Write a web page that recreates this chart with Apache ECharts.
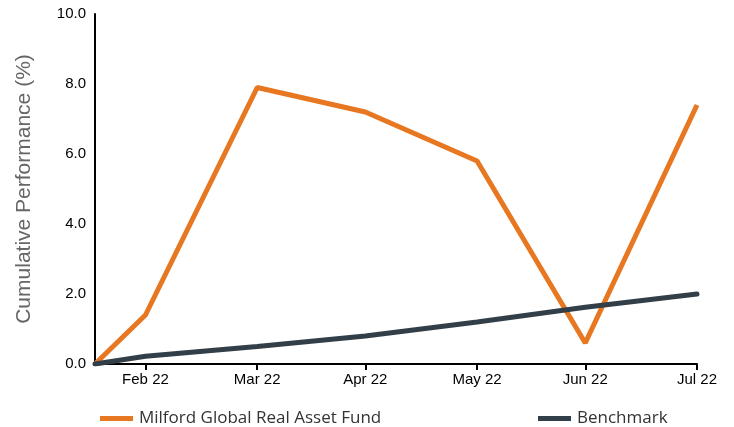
<!DOCTYPE html>
<html>
<head>
<meta charset="utf-8">
<script src="https://cdn.jsdelivr.net/npm/echarts@6/dist/echarts.min.js"></script>
<style>html,body{margin:0;padding:0;background:#fff}#c{width:734px;height:427px}</style>
</head>
<body>
<div id="c"></div>
<script>
const dates = ['2022-02-14','2022-02-28','2022-03-31','2022-04-30','2022-05-31','2022-06-30','2022-07-31'];
const tickDates = ['2022-02-28','2022-03-31','2022-04-30','2022-05-31','2022-06-30','2022-07-31'];
const fundValues = [0, 1.4, 7.9, 7.2, 5.8, 0.6, 7.4];
const benchValues = [0, 0.22, 0.5, 0.8, 1.2, 1.62, 2.0];
const fundName = 'Milford Global Real Asset Fund';
const benchName = 'Benchmark';
const yName = 'Cumulative Performance (%)';
const monthNames = ['Jan','Feb','Mar','Apr','May','Jun','Jul','Aug','Sep','Oct','Nov','Dec'];

const ts = d => new Date(d + 'T00:00:00Z').getTime();
const tickTs = tickDates.map(ts);
const fmt = v => { const d = new Date(v); return monthNames[d.getUTCMonth()] + ' ' + String(d.getUTCFullYear()).slice(2); };

const legendBase = {icon: 'rect', itemWidth: 33, itemHeight: 5, itemGap: 7, top: 410, padding: 0,
  itemStyle: {borderWidth: 0}, textStyle: {fontFamily: 'Open Sans', fontSize: 17, color: '#333', padding: [0, 0, 0, 1]}};

const chart = echarts.init(document.getElementById('c'));
chart.setOption({
  animation: false,
  grid: {left: 95, right: 37, top: 14, bottom: 63},
  legend: [
    Object.assign({data: [fundName], left: 100}, legendBase),
    Object.assign({data: [benchName], left: 538}, legendBase)
  ],
  xAxis: {
    type: 'value',
    min: ts(dates[0]),
    max: ts(dates[dates.length - 1]),
    axisLine: {lineStyle: {color: '#000', width: 2}},
    axisTick: {show: true, customValues: tickTs, length: 6, lineStyle: {color: '#000', width: 2}},
    axisLabel: {customValues: tickTs, formatter: fmt, color: '#000', fontFamily: 'Liberation Sans', fontSize: 15, margin: 8, hideOverlap: false},
    splitLine: {show: false}
  },
  yAxis: {
    type: 'value',
    min: 0, max: 10, interval: 2,
    name: yName,
    nameLocation: 'middle',
    nameGap: 60,
    nameTextStyle: {color: '#666', fontFamily: 'Liberation Sans', fontSize: 21},
    axisLine: {show: true, lineStyle: {color: '#000', width: 2}},
    axisTick: {show: false},
    axisLabel: {formatter: v => v.toFixed(1), color: '#000', fontFamily: 'Liberation Sans', fontSize: 15, margin: 9},
    splitLine: {show: false}
  },
  series: [
    {name: fundName, type: 'line', data: dates.map((d, i) => [ts(d), fundValues[i]]),
     showSymbol: false, lineStyle: {color: '#E87722', width: 5}, itemStyle: {color: '#E87722'}, z: 2},
    {name: benchName, type: 'line', data: dates.map((d, i) => [ts(d), benchValues[i]]),
     showSymbol: false, lineStyle: {color: '#333F48', width: 5, cap: 'round'}, itemStyle: {color: '#333F48'}, z: 3}
  ]
});
</script>
</body>
</html>
